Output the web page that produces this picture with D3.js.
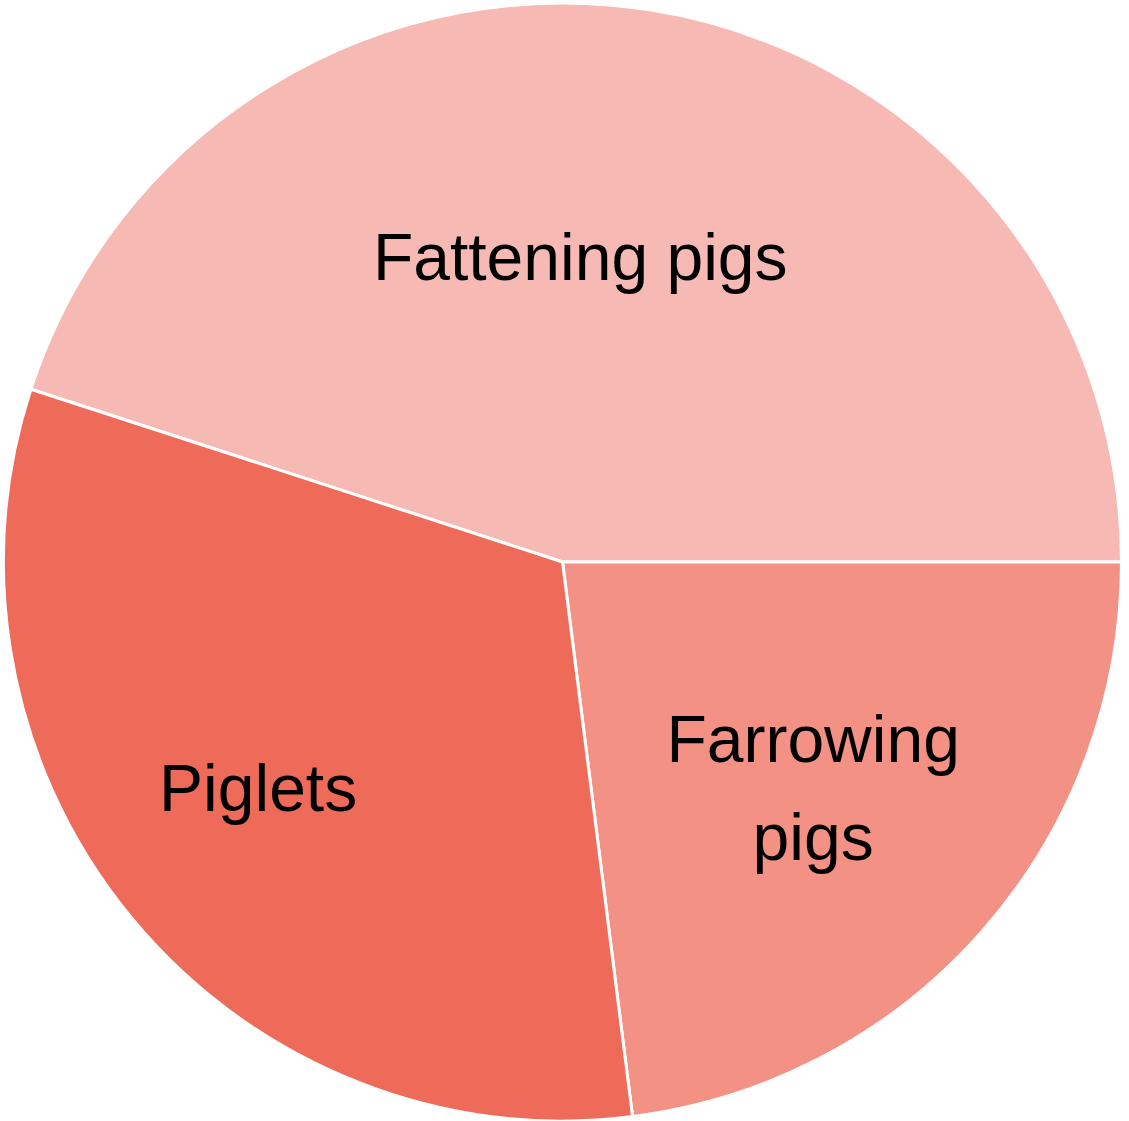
<!DOCTYPE html>
<html>
<head>
<meta charset="utf-8">
<script src="https://cdn.jsdelivr.net/npm/d3@7"></script>
<style>
  body { margin: 0; background: #fff; }
  svg { display: block; }
</style>
</head>
<body>
<div id="pieChart"></div>
<script>
// pig categories and their share (%)
const categories = ["Fattening pigs", "Farrowing pigs", "Piglets"];
const shares = [45, 23, 32];
const sliceColors = ["#F7B9B4", "#F49185", "#EE6B5A"];

// text lines drawn inside each slice
const labelLines = [["Fattening pigs"], ["Farrowing", "pigs"], ["Piglets"]];

const width = 1129,
    height = 1121,
    radius = 559;

const svg = d3.select("#pieChart")
    .append("svg")
    .attr("width", width)
    .attr("height", height)
    .append("g")
    .attr("transform", "translate(562.5,562)");

const data = categories.map((c, i) => ({ name: c, value: shares[i], lines: labelLines[i] }));

const start = -72 * Math.PI / 180;
const pie = d3.pie()
    .value(d => d.value)
    .sort(null)
    .startAngle(start)
    .endAngle(start + 2 * Math.PI);

const arc = d3.arc().innerRadius(0).outerRadius(radius);

const color = d3.scaleOrdinal().domain(categories).range(sliceColors);

const arcs = pie(data);

svg.selectAll("path.slice")
    .data(arcs)
    .join("path")
    .attr("class", "slice")
    .attr("d", arc)
    .attr("fill", d => color(d.data.name))
    .attr("stroke", "#fff")
    .attr("stroke-width", 3)
    .attr("stroke-linejoin", "miter");

// nudge labels off the centroid so they sit in the widest part of each slice
const labelShift = [[-26, -29], [41, 41], [-89, 48]];
const fontSize = 66,
    lineGap = 98;

const labels = svg.selectAll("text.label")
    .data(arcs)
    .join("text")
    .attr("class", "label")
    .attr("text-anchor", "middle")
    .style("font-family", "'Liberation Sans', Arial, sans-serif")
    .style("font-size", fontSize + "px")
    .attr("fill", "#000")
    .attr("transform", (d, i) => {
        const [cx, cy] = arc.centroid(d);
        return `translate(${cx + labelShift[i][0]},${cy + labelShift[i][1]})`;
    });

labels.selectAll("tspan")
    .data(d => d.data.lines.map((t, j) => ({ t, j, n: d.data.lines.length })))
    .join("tspan")
    .attr("x", 0)
    .attr("y", d => (d.j - (d.n - 1) / 2) * lineGap + fontSize * 0.35)
    .text(d => d.t);
</script>
</body>
</html>
